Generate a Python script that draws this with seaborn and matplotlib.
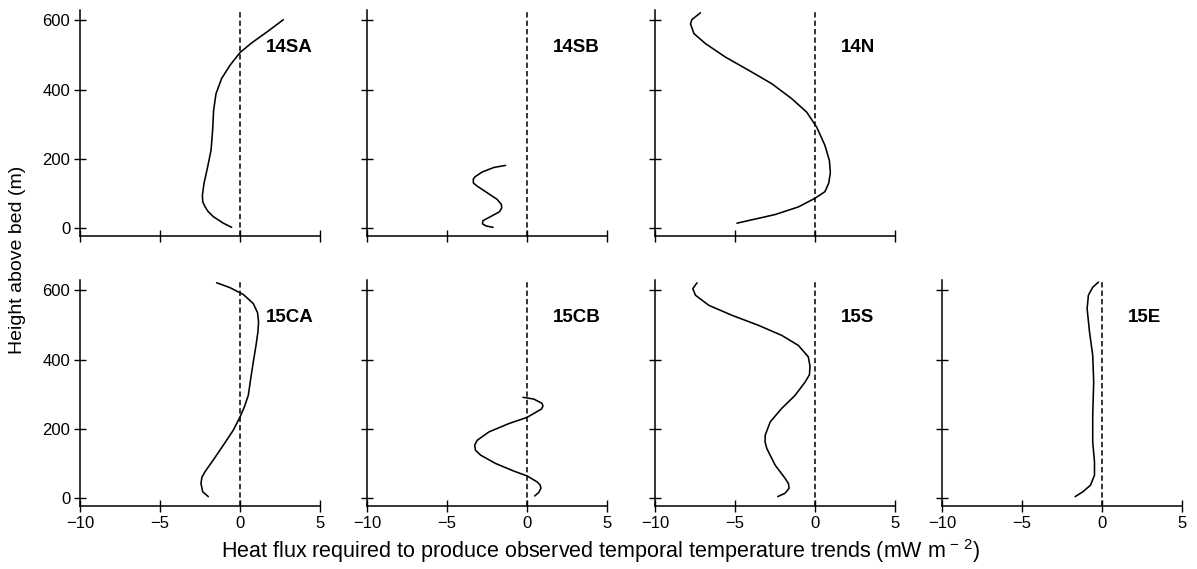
import numpy as np
import pandas as pd
import matplotlib
matplotlib.use("Agg")
import matplotlib.pyplot as plt
import seaborn as sns

# Heat flux profiles (mW m-2) vs height above bed (m)
flux_14SA = [-0.52, -1.04, -1.67, -2.0, -2.19, -2.33, -2.35, -2.25, -2.02, -1.81, -1.71, -1.65,
             -1.5, -1.15, -0.63, 0.0, 0.73, 1.67, 2.71]
height_14SA = [2, 14, 33, 48, 62, 76, 95, 129, 177, 225, 283, 340, 388, 432, 470, 507, 535, 566,
               602]

flux_14SB = [-2.12, -2.55, -2.78, -2.76, -2.28, -1.72, -1.58, -1.60, -1.87, -2.49, -3.11, -3.35,
             -3.36, -3.25, -2.80, -2.07, -1.34]
height_14SB = [2, 6, 12, 21, 33, 47, 58, 68, 83, 102, 121, 130, 141, 148, 162, 175, 181]

flux_14N = [-4.88, -3.73, -2.49, -1.04, 0.0, 0.62, 0.86, 0.96, 0.90, 0.62, 0.10, -0.52, -1.46,
            -2.70, -4.15, -5.6, -6.85, -7.57, -7.78, -7.70, -7.16]
height_14N = [14, 26, 39, 61, 86, 105, 130, 160, 195, 239, 292, 335, 374, 417, 456, 494, 533, 562,
              590, 602, 622]

flux_15CA = [-1.98, -2.33, -2.44, -2.38, -2.19, -1.67, -1.04, -0.42, 0.0, 0.27, 0.52, 0.67, 0.83,
             1.0, 1.12, 1.16, 1.1, 0.83, 0.21, -0.63, -1.46]
height_15CA = [4, 18, 42, 60, 76, 110, 153, 196, 234, 263, 297, 345, 393, 441, 480, 508, 535, 562,
               588, 608, 622]

flux_15CB = [0.48, 0.73, 0.87, 0.82, 0.62, 0.0, -0.83, -1.97, -2.90, -3.22, -3.27, -3.11, -2.38,
             -1.14, 0.0, 0.90, 1.0, 0.93, 0.42, -0.25]
height_15CB = [6, 16, 28, 38, 47, 64, 78, 100, 124, 138, 153, 167, 191, 215, 233, 257, 266, 274,
               286, 291]

flux_15S = [-2.33, -1.87, -1.62, -1.66, -1.87, -2.49, -3.01, -3.12, -3.11, -2.80, -2.08, -1.24,
            -0.62, -0.35, -0.31, -0.42, -1.04, -2.08, -3.53, -5.19, -6.64, -7.47, -7.64, -7.37]
height_15S = [4, 14, 28, 42, 57, 95, 143, 162, 182, 220, 259, 297, 335, 356, 380, 408, 441, 470,
              499, 528, 557, 586, 605, 622]

flux_15E = [-1.68, -1.2, -0.72, -0.47, -0.47, -0.58, -0.58, -0.52, -0.58, -0.78, -0.93, -0.85,
            -0.58, -0.22]
height_15E = [4, 18, 37, 66, 105, 162, 239, 335, 412, 480, 547, 586, 609, 624]

# site name -> (row, col, flux, height)
sites = {
    "14SA": (0, 0, flux_14SA, height_14SA),
    "14SB": (0, 1, flux_14SB, height_14SB),
    "14N": (0, 2, flux_14N, height_14N),
    "15CA": (1, 0, flux_15CA, height_15CA),
    "15CB": (1, 1, flux_15CB, height_15CB),
    "15S": (1, 2, flux_15S, height_15S),
    "15E": (1, 3, flux_15E, height_15E),
}

x_ticks = [-10, -5, 0, 5]
y_ticks = [0, 200, 400, 600]

sns.set_theme(style="ticks")
plt.rcParams["font.family"] = ["Liberation Sans", "DejaVu Sans"]
plt.rcParams["mathtext.fontset"] = "custom"
plt.rcParams["mathtext.rm"] = "Liberation Sans"
plt.rcParams["mathtext.it"] = "Liberation Sans:italic"
plt.rcParams["text.color"] = "black"

W, H = 1197, 569
fig = plt.figure(figsize=(W / 100, H / 100), dpi=100)

col_left = [80, 367, 655, 942]
row_top = [10, 280]
ax_w, ax_h = 240, 226

for name, (r, c, fx, hz) in sites.items():
    ax = fig.add_axes([col_left[c] / W, 1 - (row_top[r] + ax_h) / H, ax_w / W, ax_h / H])
    df = pd.DataFrame({"flux": fx, "height": hz})
    sns.lineplot(data=df, x="flux", y="height", sort=False, estimator=None,
                 color="black", lw=1.15, solid_joinstyle="round", ax=ax)
    ax.axvline(0, color="black", lw=1.1, ls=(0, (3.5, 2)))
    ax.set_xlim(-10, 5)
    ax.set_ylim(-23, 630)
    ax.set_xticks(x_ticks)
    ax.set_yticks(y_ticks)
    sns.despine(ax=ax)
    for s in ["left", "bottom"]:
        ax.spines[s].set_linewidth(1.1)
        ax.spines[s].set_color("black")
    ax.tick_params(direction="inout", length=8, width=1.0, colors="black",
                   labelsize=12, pad=3)
    ax.set_xlabel("")
    ax.set_ylabel("")
    if r == 0:
        ax.set_xticklabels([])
    if c != 0:
        ax.set_yticklabels([])
    ax.text(1.6, 522, name, fontsize=13.5, fontweight="bold", ha="left", va="center")

fig.text(601 / W, 1 - 551 / H,
         r"Heat flux required to produce observed temporal temperature trends (mW m$^{\,-\,2}$)",
         fontsize=15.5, ha="center", va="center")
fig.text(18 / W, 1 - 260 / H, "Height above bed (m)", fontsize=14,
         rotation=90, ha="center", va="center")

fig.savefig("out.png", dpi=100)
